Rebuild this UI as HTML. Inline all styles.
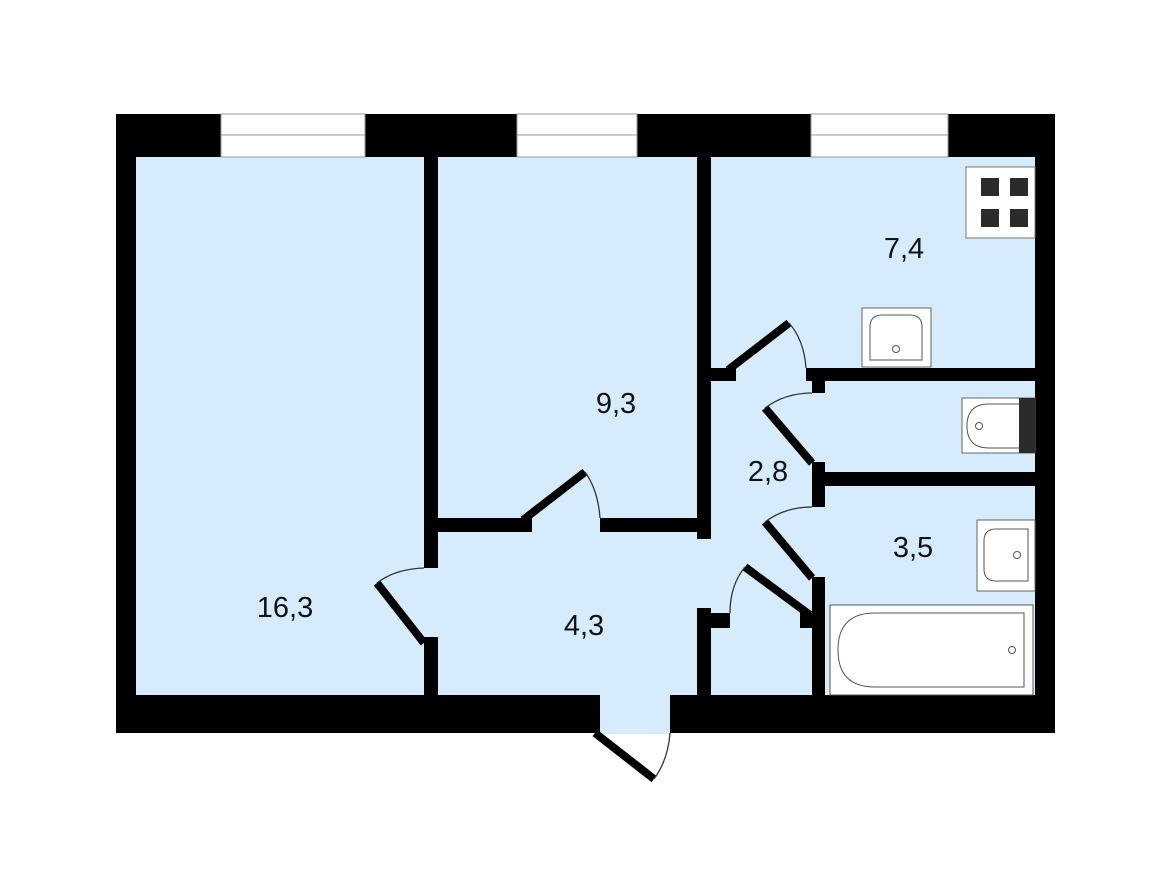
<!DOCTYPE html>
<html><head><style>html,body{margin:0;padding:0;background:#fff}svg{display:block}</style></head>
<body>
<svg width="1170" height="876" viewBox="0 0 1170 876" xmlns="http://www.w3.org/2000/svg">
<rect x="116" y="114" width="939" height="619" fill="#000"/>
<rect x="136" y="157" width="899" height="538" fill="#d6ebfc"/>
<!-- entrance gap -->
<rect x="600" y="694" width="70" height="40" fill="#d6ebfc"/>
<!-- windows -->
<g fill="#fff" stroke="#999" stroke-width="1">
<rect x="221" y="114" width="144" height="43"/><line x1="221" y1="135" x2="365" y2="135"/>
<rect x="517" y="114" width="120" height="43"/><line x1="517" y1="135" x2="637" y2="135"/>
<rect x="811" y="114" width="137" height="43"/><line x1="811" y1="135" x2="948" y2="135"/>
</g>
<g fill="#000">
<!-- wall between 16.3 and 9.3 -->
<rect x="424" y="157" width="14" height="411"/>
<rect x="424" y="637" width="14" height="58"/>
<!-- wall under 9.3 -->
<rect x="438" y="518" width="94" height="14"/>
<rect x="600" y="518" width="98" height="14"/>
<!-- wall right of 9.3 -->
<rect x="697" y="157" width="14" height="382"/>
<rect x="697" y="608" width="14" height="87"/>
<rect x="711" y="613" width="19" height="15"/>
<rect x="800" y="613" width="12" height="15"/>
<!-- kitchen bottom wall -->
<rect x="711" y="368" width="25" height="13"/>
<rect x="806" y="368" width="229" height="13"/>
<!-- corridor right column -->
<rect x="812" y="368" width="13" height="25"/>
<rect x="812" y="462" width="13" height="45"/>
<rect x="825" y="472" width="210" height="14"/>
<rect x="812" y="577" width="13" height="118"/>
</g>
<!-- door leaves -->
<g stroke="#000" stroke-width="8" stroke-linecap="butt">
<line x1="377" y1="583" x2="424" y2="643"/>
<line x1="523" y1="520" x2="585" y2="472"/>
<line x1="728" y1="370" x2="789" y2="323"/>
<line x1="765" y1="408" x2="812" y2="463"/>
<line x1="765" y1="522" x2="812" y2="578"/>
<line x1="745" y1="567" x2="810" y2="615"/>
<line x1="595" y1="733" x2="654" y2="779"/>
</g>
<g stroke="#333" stroke-width="1.3" fill="none">
<path d="M377 583 Q395 569 424 568"/>
<path d="M585 472 Q598 490 600 518"/>
<path d="M789 323 Q804 340 806 368"/>
<path d="M765 408 Q785 393 812 393"/>
<path d="M765 522 Q785 507 812 507"/>
<path d="M745 567 Q730 585 730 613"/>
<path d="M654 779 Q668 760 670 733"/>
</g>
<!-- stove -->
<rect x="966" y="167" width="69" height="71" fill="#fff" stroke="#777" stroke-width="1"/>
<g fill="#2b2b2b">
<rect x="981" y="178" width="18" height="18"/><rect x="1010" y="178" width="18" height="18"/>
<rect x="981" y="209" width="18" height="18"/><rect x="1010" y="209" width="18" height="18"/>
</g>
<!-- kitchen sink -->
<rect x="862" y="308" width="69" height="59" fill="#fff" stroke="#666" stroke-width="1"/>
<path d="M870 360 V327 Q870 315 882 315 H910 Q922 315 922 327 V360 Z" fill="#fff" stroke="#555" stroke-width="1"/>
<circle cx="896" cy="349" r="3.5" fill="#fff" stroke="#555"/>
<!-- toilet -->
<rect x="962" y="398" width="73" height="55" fill="#fff" stroke="#666" stroke-width="1"/>
<rect x="1019" y="398" width="16" height="55" fill="#2b2b2b"/>
<path d="M1019 404 H989 Q967 404 967 426 Q967 448 989 448 H1019" fill="#fff" stroke="#555" stroke-width="1"/>
<circle cx="979" cy="426" r="3.5" fill="#fff" stroke="#555"/>
<!-- bathroom sink -->
<rect x="977" y="520" width="58" height="71" fill="#fff" stroke="#666" stroke-width="1"/>
<path d="M1028 529 H996 Q984 529 984 541 V569 Q984 581 996 581 H1028 Z" fill="#fff" stroke="#555" stroke-width="1"/>
<circle cx="1017" cy="555" r="3.5" fill="#fff" stroke="#555"/>
<!-- bathtub -->
<rect x="830" y="605" width="203" height="90" fill="#fff" stroke="#555" stroke-width="1"/>
<path d="M1024 613 H875 Q838 613 838 650 Q838 687 875 687 H1024 Z" fill="#fff" stroke="#555" stroke-width="1"/>
<circle cx="1012" cy="650" r="3.5" fill="#fff" stroke="#555"/>
<!-- labels -->
<g font-family="Liberation Sans, sans-serif" font-size="29" fill="#111" text-anchor="middle">
<text x="285" y="617">16,3</text>
<text x="616" y="413">9,3</text>
<text x="904" y="258">7,4</text>
<text x="768" y="481">2,8</text>
<text x="913" y="557">3,5</text>
<text x="584" y="635">4,3</text>
</g>
</svg>
</body></html>
